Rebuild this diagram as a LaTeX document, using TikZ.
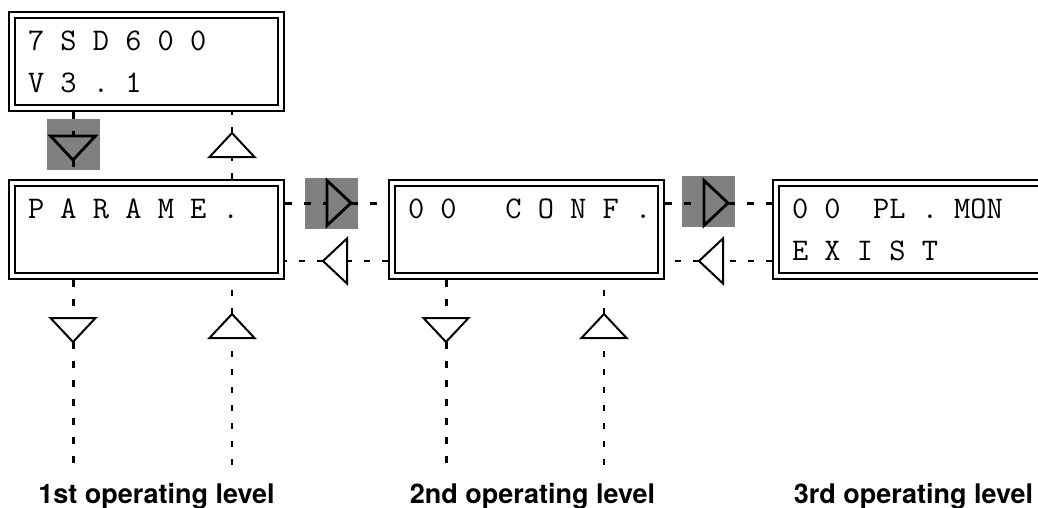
\documentclass[tikz,border=0pt]{standalone}
\usepackage{fontspec}
\usetikzlibrary{shapes.geometric}
\newfontfamily\labelfont{TeX Gyre Heros}
\DeclareRobustCommand\lcdfont{\ttfamily\fontsize{31.5}{42}\selectfont\frenchspacing}
\definecolor{keyshade}{RGB}{128,128,128}
\tikzset{
  lcd/.style={draw,double,line width=2pt,double distance=4pt,outer sep=4pt,
    minimum height=93pt,text width=237pt,inner xsep=16pt,align=flush left,font=\lcdfont},
  key/.style={isosceles triangle,isosceles triangle stretches,draw,line width=2pt,
    minimum width=45pt,minimum height=24pt,inner sep=0pt,outer sep=0pt,anchor=apex},
  keyon/.style={key,line width=2.8pt},
  keybg/.style={fill=keyshade,minimum width=53pt,minimum height=51pt,inner sep=0pt},
  fwd/.style={line width=3pt,dash pattern=on 7pt off 12pt},
  back/.style={line width=1.8pt,dash pattern=on 6pt off 12pt},
  level/.style={font=\labelfont\bfseries\fontsize{27}{30}\selectfont}
}
\begin{document}
\begin{tikzpicture}[x=1pt,y=-1pt]
\useasboundingbox (0,0) rectangle (1038,508);
\clip (0,0) rectangle (1038,508);
\node[lcd] (ident) at (146.5,61.5) {7 S D 6 0 0\\V 3 . 1};
\node[lcd] (parame) at (146.5,229.5) {P A R A M E .\\\mbox{}};
\node[lcd] (conf) at (526.5,229.5) {\mbox{0 0\ \ \ C O N F .}\\\mbox{}};
\node[lcd] (plmon) at (910.5,229.5) {0 0\ \ PL . MON\\E X I S T};
\node[keybg] (hl0) at (73,144.5) {};
\node[keybg] (hl1) at (331.5,203.5) {};
\node[keybg] (hl2) at (708,201) {};
\node[keyon,rotate=-90] (down0) at (73,160) {};
\node[key,rotate=90] (up0) at (232,133) {};
\node[key,rotate=-90] (down1) at (73,342) {};
\node[key,rotate=90] (up1) at (232,314) {};
\node[key,rotate=-90] (down2) at (446,342) {};
\node[key,rotate=90] (up2) at (604,314) {};
\node[keyon] (right1) at (351,203) {};
\node[key,rotate=180] (left1) at (323,261) {};
\node[keyon] (right2) at (728,203) {};
\node[key,rotate=180] (left2) at (699,261) {};
\coordinate (end1d) at (73,465);
\coordinate (end1u) at (232,465);
\coordinate (end2d) at (446,465);
\coordinate (end2u) at (604,465);
\draw[fwd] (ident.south -| down0) -- (down0);
\draw[fwd] (down0) -- (parame.north -| down0);
\draw[back] (parame.north -| up0) -- (up0);
\draw[back] (up0) -- (ident.south -| up0);
\draw[fwd] (parame.east |- right1) -- (right1);
\draw[fwd] (right1) -- (conf.west |- right1);
\draw[back] (conf.west |- left1) -- (left1);
\draw[back] (left1) -- (parame.east |- left1);
\draw[fwd] (conf.east |- right2) -- (right2);
\draw[fwd] (right2) -- (plmon.west |- right2);
\draw[back] (plmon.west |- left2) -- (left2);
\draw[back] (left2) -- (conf.east |- left2);
\draw[fwd] (parame.south -| down1) -- (down1);
\draw[fwd] (down1) -- (end1d);
\draw[back] (end1u) -- (up1);
\draw[back] (up1) -- (parame.south -| up1);
\draw[fwd] (conf.south -| down2) -- (down2);
\draw[fwd] (down2) -- (end2d);
\draw[back] (end2u) -- (up2);
\draw[back] (up2) -- (conf.south -| up2);
\node[level] (lvl1) at (156.5,496) {1st operating level};
\node[level] (lvl2) at (532.5,496) {2nd operating level};
\node[level] (lvl3) at (913.5,496) {3rd operating level};
\end{tikzpicture}
\end{document}
